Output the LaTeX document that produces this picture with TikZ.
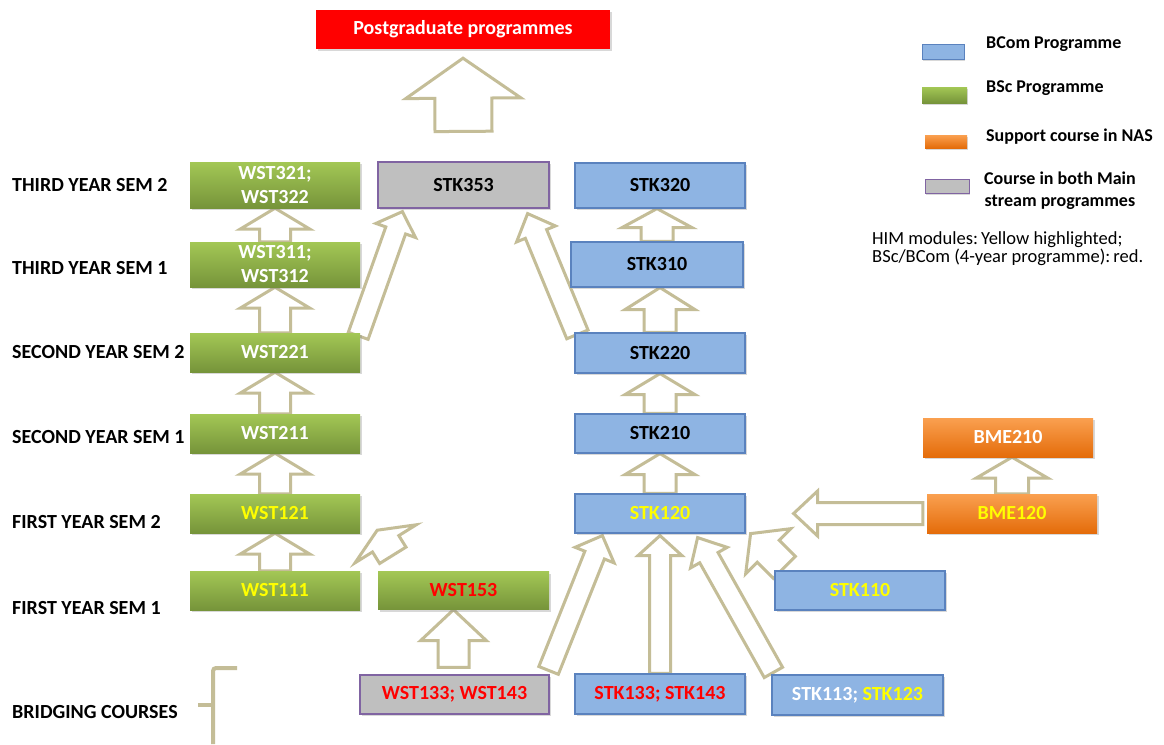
\documentclass[tikz,border=0pt]{standalone}
\usepackage{fontspec}
\setmainfont{Carlito}
\usetikzlibrary{calc,shadows}
\pgfdeclarelayer{background}
\pgfsetlayers{background,main}
\definecolor{arrowc}{RGB}{196,189,151}
\definecolor{gtop}{RGB}{163,199,85}
\definecolor{gbot}{RGB}{118,148,58}
\definecolor{bfill}{RGB}{142,180,227}
\definecolor{bdraw}{RGB}{90,130,190}
\definecolor{grfill}{RGB}{191,191,191}
\definecolor{grdraw}{RGB}{128,100,162}
\definecolor{otop}{RGB}{250,160,80}
\definecolor{obot}{RGB}{228,108,10}
\definecolor{hiyel}{RGB}{255,255,0}
\definecolor{hired}{RGB}{255,0,0}
\tikzset{
  box/.style={inner sep=0pt, align=center, font=\fontsize{20}{24}\selectfont\bfseries,
    drop shadow={shadow xshift=1.5pt, shadow yshift=-2pt, opacity=0.3}},
  gbox/.style={box, top color=gtop, bottom color=gbot, minimum width=170pt, minimum height=39pt, text=white},
  bbox/.style={box, fill=bfill, draw=bdraw, line width=1.2pt, minimum width=170pt, minimum height=39pt, text=black},
  grbox/.style={box, fill=grfill, draw=grdraw, line width=1.2pt, minimum width=171pt, minimum height=39pt},
  obox/.style={box, top color=otop, bottom color=obot, minimum width=170pt, minimum height=39pt},
  rbox/.style={box, fill=hired, minimum width=294pt, minimum height=39pt, text=white},
  lbl/.style={anchor=west, inner sep=0pt, font=\fontsize{20}{24}\selectfont\bfseries},
  lgt/.style={anchor=west, inner sep=0pt, align=center, font=\fontsize{18}{22}\selectfont\bfseries},
  note/.style={anchor=west, inner sep=0pt, font=\fontsize{18.5}{20}\selectfont},
  swatch/.style={inner sep=0pt, drop shadow={shadow xshift=1pt, shadow yshift=-1.5pt, opacity=0.3}},
  blockarr/.style={draw=arrowc, fill=white, line width=3pt, line join=miter},
  bracketline/.style={draw=arrowc, line width=4pt}
}
% tail, tip, half shaft width, half head width, head length
\newcommand\barrow[5]{%
  \coordinate (ba-t) at (#1);
  \coordinate (ba-p) at (#2);
  \coordinate (ba-h) at ($(ba-p)!#5!(ba-t)$);
  \draw[blockarr] ($(ba-t)!#3!90:(ba-p)$) -- ($(ba-h)!#3!90:(ba-p)$) -- ($(ba-h)!#4!90:(ba-p)$) -- (ba-p)
    -- ($(ba-h)!#4!-90:(ba-p)$) -- ($(ba-h)!#3!-90:(ba-p)$) -- ($(ba-t)!#3!-90:(ba-p)$) -- cycle;
}
\begin{document}
\begin{tikzpicture}[x=1pt,y=-1pt]
\useasboundingbox (0,0) rectangle (1164,744);
\begin{pgfonlayer}{background}
\fill[white] (0,0) rectangle (1164,744);
\end{pgfonlayer}

% boxes
\node[rbox] (pg) at (463,29.5) {Postgraduate programmes};

\node[gbox, minimum height=46pt] (wst32) at (275,185) {WST321;\\WST322};
\node[gbox, minimum height=45pt] (wst31) at (275,264.5) {WST311;\\WST312};
\node[gbox] (wst221) at (275,352.5) {WST221};
\node[gbox] (wst211) at (275,433.5) {WST211};
\node[gbox, text=hiyel] (wst121) at (275,513.5) {WST121};
\node[gbox, text=hiyel] (wst111) at (275,590.5) {WST111};
\node[gbox, text=hired, minimum width=171pt, minimum height=38pt] (wst153) at (463.5,590.5) {WST153};
\node[grbox, text=hired, minimum width=189pt] (wst133) at (454.5,694.5) {WST133; WST143};

\node[grbox, minimum height=46pt, text=black] (stk353) at (463.5,185) {STK353};
\node[bbox, minimum height=45pt] (stk320) at (660,185.5) {STK320};
\node[bbox, minimum height=45pt, minimum width=172pt] (stk310) at (657,264.5) {STK310};
\node[bbox, minimum height=40pt] (stk220) at (660,353) {STK220};
\node[bbox] (stk210) at (660,433.5) {STK210};
\node[bbox, text=hiyel] (stk120) at (660,513.5) {STK120};
\node[bbox, text=hiyel] (stk110) at (860,590.5) {STK110};
\node[bbox, text=hired, minimum height=40pt] (stk133) at (660,694) {STK133; STK143};
\node[bbox, minimum width=171pt, minimum height=40pt, text=white] (stk113) at (857.5,695) {STK113; \textcolor{hiyel}{STK123}};

\node[obox, text=white] (bme210) at (1008,437.5) {BME210};
\node[obox, text=hiyel] (bme120) at (1012,513.5) {BME120};

% row labels
\node[lbl] (r32) at (12,185) {THIRD YEAR SEM 2};
\node[lbl] (r31) at (12,268) {THIRD YEAR SEM 1};
\node[lbl] (r22) at (12,352) {SECOND YEAR SEM 2};
\node[lbl] (r21) at (12,437) {SECOND YEAR SEM 1};
\node[lbl] (r12) at (12,522) {FIRST YEAR SEM 2};
\node[lbl] (r11) at (12,608) {FIRST YEAR SEM 1};
\node[lbl] (rb) at (12,712) {BRIDGING COURSES};

% legend
\node[swatch, fill=bfill, draw=bdraw, line width=1pt, minimum width=42pt, minimum height=15pt] (sw1) at (943,51.5) {};
\node[swatch, top color=gtop, bottom color=gbot, minimum width=45pt, minimum height=16pt] (sw2) at (944.5,95) {};
\node[swatch, top color=otop, bottom color=obot, minimum width=42pt, minimum height=13pt] (sw3) at (946,141.5) {};
\node[swatch, fill=grfill, draw=grdraw, line width=1pt, minimum width=44pt, minimum height=14pt] (sw4) at (947,186) {};
\node[lgt] (lt1) at (986,44) {BCom Programme};
\node[lgt] (lt2) at (986,88) {BSc Programme};
\node[lgt] (lt3) at (986,137) {Support course in NAS};
\node[lgt] (lt4) at (984,191) {Course in both Main\\stream programmes};
\node[note] (n1) at (872,240) {HIM modules:\,Yellow highlighted;};
\node[note] (n2) at (872,257) {BSc/BCom (4-year programme):\,red.};

% bracket
\draw[bracketline, rounded corners=3pt] (237,668) -- (213,668) -- (213,744);
\draw[bracketline] (198,705) -- (213,705);

% arrows
\begin{pgfonlayer}{background}
\barrow{$(stk353.north)+(0,-30)$}{$(pg.south)+(0,9)$}{28.5pt}{57.5pt}{40pt}
% green column
\barrow{wst111.north}{wst121.south}{15.5pt}{35pt}{21pt}
\barrow{wst121.north}{wst211.south}{15.5pt}{35pt}{21pt}
\barrow{wst211.north}{wst221.south}{15.5pt}{35pt}{21pt}
\barrow{wst221.north}{wst31.south}{15.5pt}{35pt}{21pt}
\barrow{wst31.north}{wst32.south}{15.5pt}{35pt}{21pt}
% blue column
\barrow{stk120.north}{stk210.south}{16pt}{35pt}{21pt}
\barrow{stk210.north}{stk220.south}{16pt}{35pt}{21pt}
\barrow{stk220.north}{stk220.north |- stk310.south}{16pt}{35pt}{22pt}
\barrow{stk310.north}{stk310.north |- stk320.south}{16pt}{35pt}{19pt}
% orange
\barrow{bme120.north}{bme120.north |- bme210.south}{16.5pt}{36pt}{21pt}
\barrow{$(bme120.west)+(-4,0)$}{$(stk120.east)+(48,0)$}{11pt}{22.5pt}{24pt}
% bridging
\barrow{$(wst133.north)+(-1,-7)$}{$(wst133.north |- wst153.south)+(-1,0)$}{15.5pt}{33pt}{31pt}
\barrow{$(wst133.north east)+(-1,-4)$}{$(stk120.south west)+(28,2)$}{10.5pt}{21pt}{21pt}
\barrow{stk133.north}{$(stk120.south)+(0,2)$}{10.5pt}{22pt}{20pt}
\barrow{$(stk113.north west)+(2,-2)$}{$(stk120.south east)+(-48,4)$}{10.5pt}{21pt}{23pt}
\barrow{$(stk110.north west)+(10,-3)$}{$(stk120.south east)+(5,0)$}{15.5pt}{32pt}{25pt}
\barrow{$(wst153.north west)+(15,-16)$}{$(wst121.south east)+(17,-3)$}{15.5pt}{36pt}{16pt}
% to STK353
\barrow{$(wst221.north east)+(-2,3)$}{$(stk353.south west)+(25,3)$}{10.5pt}{21pt}{20pt}
\barrow{$(stk220.north west)+(3,2)$}{$(stk353.south east)+(-22,5)$}{11.5pt}{21pt}{22pt}
\end{pgfonlayer}
\end{tikzpicture}
\end{document}
